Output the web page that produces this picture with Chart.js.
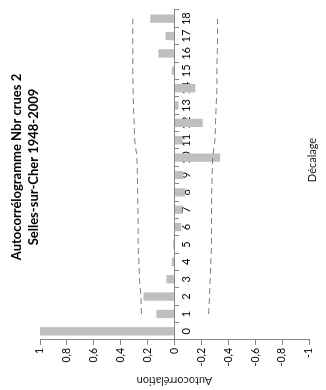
<!DOCTYPE html>
<html lang="fr">
<head>
    <meta charset="UTF-8">
    <title>Autocorrélogramme Nbr crues 2</title>
    <script src="https://cdn.jsdelivr.net/npm/chart.js"></script>
    <style>
        body {
            margin: 0;
            background: #fff;
            width: 326px;
            height: 390px;
            overflow: hidden;
        }
        /* the chart is drawn landscape, then turned a quarter left */
        .rotated {
            position: absolute;
            left: 0;
            top: 0;
            width: 390px;
            height: 326px;
            transform-origin: 0 0;
            transform: translateY(390px) rotate(-90deg);
        }
    </style>
</head>
<body>
    <div class="rotated">
        <canvas id="myChart" width="390" height="326"></canvas>
    </div>

    <script>
        // data
        var lags = ['0','1','2','3','4','5','6','7','8','9','10','11','12','13','14','15','16','17','18'];
        var autocorr = [1, 0.135, 0.23, 0.06, 0.02, 0.01, -0.05, -0.06, -0.08, -0.065, -0.34, -0.06, -0.21, -0.03, -0.155, 0.02, 0.12, 0.067, 0.18];
        var upperBound = [null, 0.246, 0.25, 0.26, 0.265, 0.27, 0.27, 0.272, 0.274, 0.276, 0.28, 0.295, 0.30, 0.305, 0.308, 0.31, 0.31, 0.31, 0.31];
        var lowerBound = [null, -0.254, -0.26, -0.265, -0.27, -0.275, -0.275, -0.275, -0.277, -0.28, -0.285, -0.30, -0.305, -0.31, -0.315, -0.315, -0.318, -0.32, -0.32];
        var titleLines = ['Autocorrélogramme Nbr crues 2', 'Selles-sur-Cher 1948-2009'];
        var xTitle = 'Décalage';
        var yTitle = 'Autocorrélation';

        var FONT = 'Lato, "Open Sans", sans-serif';

        // title and x axis title, placed like in the excel chart
        var extraText = {
            id: 'extraText',
            afterDraw: function(chart) {
                var ctx = chart.ctx;
                ctx.save();
                ctx.fillStyle = '#000';
                ctx.textAlign = 'center';
                ctx.textBaseline = 'middle';
                ctx.font = 'bold 13px ' + FONT;
                ctx.fillText(titleLines[0], 223, 17);
                ctx.fillText(titleLines[1], 223, 34);
                ctx.font = '11px ' + FONT;
                ctx.fillStyle = '#222';
                ctx.fillText(xTitle, 230, 312);
                ctx.restore();
            }
        };

        var ctx = document.getElementById('myChart').getContext('2d');
        var myChart = new Chart(ctx, {
            type: 'bar',
            data: {
                labels: lags,
                datasets: [
                    {
                        label: 'Autocorrélation',
                        data: autocorr,
                        backgroundColor: '#bfbfbf',
                        categoryPercentage: 1,
                        barPercentage: 0.48,
                        order: 2
                    },
                    {
                        type: 'line',
                        label: 'Borne sup',
                        data: upperBound,
                        borderColor: '#7a7a7a',
                        borderWidth: 1,
                        borderDash: [6, 4],
                        pointRadius: 0,
                        tension: 0.4,
                        fill: false,
                        order: 1
                    },
                    {
                        type: 'line',
                        label: 'Borne inf',
                        data: lowerBound,
                        borderColor: '#7a7a7a',
                        borderWidth: 1,
                        borderDash: [6, 4],
                        pointRadius: 0,
                        tension: 0.4,
                        fill: false,
                        order: 1
                    }
                ]
            },
            plugins: [extraText],
            options: {
                responsive: false,
                animation: false,
                layout: {
                    padding: { top: 40, right: 10, bottom: 17, left: 0 }
                },
                plugins: {
                    legend: { display: false },
                    tooltip: { enabled: false }
                },
                scales: {
                    x: {
                        position: { y: 0 },
                        grid: {
                            drawOnChartArea: false,
                            tickLength: 4,
                            color: '#868686'
                        },
                        border: { color: '#868686' },
                        ticks: {
                            color: '#000',
                            padding: 1,
                            maxRotation: 0,
                            autoSkip: false,
                            font: { family: FONT, size: 11 }
                        }
                    },
                    y: {
                        min: -1,
                        max: 1,
                        afterFit: function(scale) { scale.width = 50; },
                        grid: {
                            drawOnChartArea: false,
                            tickLength: 5,
                            color: '#868686'
                        },
                        border: { color: '#868686' },
                        ticks: {
                            stepSize: 0.2,
                            color: '#000',
                            padding: 3,
                            font: { family: FONT, size: 10.5 },
                            callback: function(v) {
                                return String(Math.round(v * 10) / 10).replace('.', ',');
                            }
                        },
                        title: {
                            display: true,
                            text: yTitle,
                            color: '#222',
                            padding: { top: 3, bottom: 0 },
                            font: { family: FONT, size: 11 }
                        }
                    }
                }
            }
        });
    </script>
</body>
</html>
